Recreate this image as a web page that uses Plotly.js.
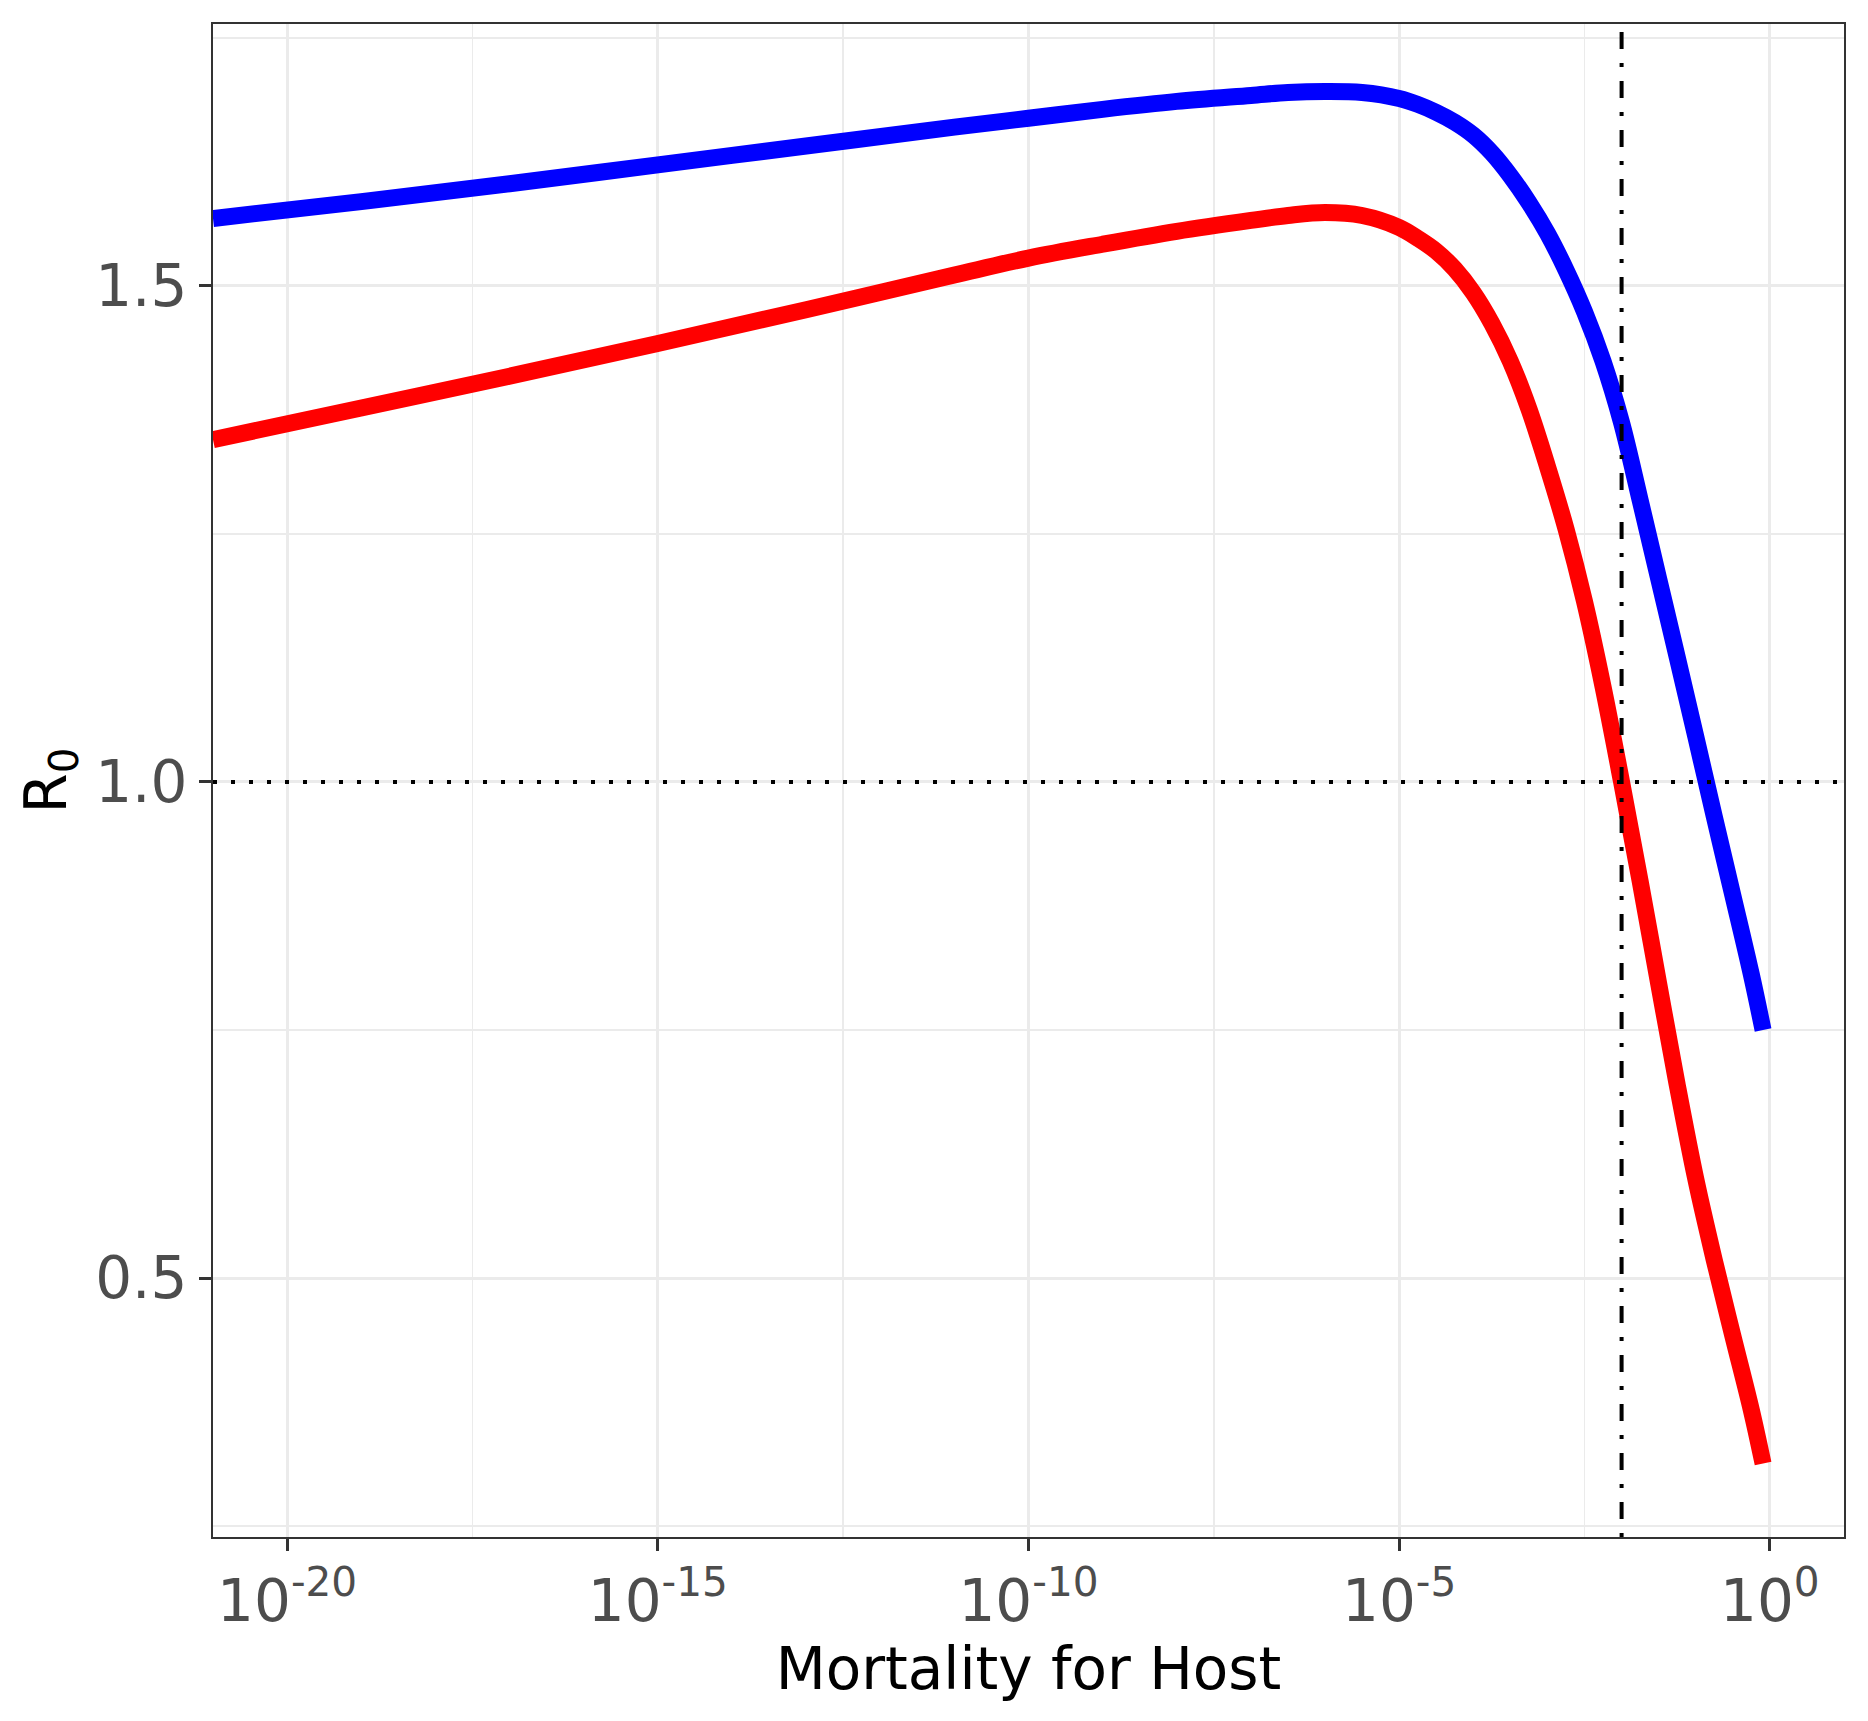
<!DOCTYPE html>
<html>
<head>
<meta charset="utf-8">
<script src="https://cdn.plot.ly/plotly-3.0.1.min.js"></script>
<style>
html,body{margin:0;padding:0;background:#fff;}
#chart{width:1868px;height:1721px;}
</style>
</head>
<body>
<div id="chart"></div>
<script>
// Mortality for host (x values)
var mortality = [1e-21, 1e-19, 1e-17, 1e-15, 1e-13, 1e-11, 1e-10, 1e-9, 1e-8, 1e-7,
  3.16e-7, 1e-6, 3.16e-6, 1e-5,
  1.78e-5, 3.16e-5, 5.62e-5, 1e-4,
  1.78e-4, 3.16e-4, 5.62e-4, 1e-3,
  1.78e-3, 3.16e-3, 5.62e-3, 1e-2,
  1.78e-2, 3.16e-2, 5.62e-2, 0.1,
  0.178, 0.316, 0.562, 0.81];
// R0, blue series
var r0Blue = [1.568, 1.585, 1.603, 1.622, 1.641, 1.660, 1.669, 1.678, 1.686, 1.692,
  1.695, 1.696, 1.695, 1.689,
  1.683, 1.675, 1.665, 1.652,
  1.634, 1.611, 1.584, 1.553,
  1.516, 1.474, 1.424, 1.362,
  1.284, 1.205, 1.126, 1.046,
  0.965, 0.886, 0.806, 0.750];
// R0, red series
var r0Red = [1.345, 1.377, 1.409, 1.442, 1.476, 1.511, 1.528, 1.542, 1.555, 1.566,
  1.571, 1.574, 1.571, 1.559,
  1.548, 1.535, 1.517, 1.493,
  1.462, 1.424, 1.376, 1.318,
  1.255, 1.182, 1.096, 1.000,
  0.900, 0.797, 0.695, 0.600,
  0.518, 0.442, 0.367, 0.313];
// reference lines
var thresholdR0 = 1.0;
var thresholdMortality = 0.01;
// axis ticks
var xTickVals = [1e-20, 1e-15, 1e-10, 1e-5, 1];
var xTickText = ['10<sup>-20</sup>', '10<sup>-15</sup>', '10<sup>-10</sup>', '10<sup>-5</sup>', '10<sup>0</sup>'];
var xMinorVals = [3.16e-23, 3.16e-18, 3.16e-13, 3.16e-8, 3.16e-3];
var yTickVals = [0.5, 1.0, 1.5];
var yTickText = ['0.5', '1.0', '1.5'];
var yMinorVals = [0.25, 0.75, 1.25, 1.75];
var xRangeLog = [-21, 1];
var yRange = [0.239, 1.764];
var xRangeVals = [1e-21, 10];

var traces = [
  {x: mortality, y: r0Blue, type: 'scatter', mode: 'lines',
   line: {color: '#0000FF', width: 17, shape: 'spline', smoothing: 1}, hoverinfo: 'skip'},
  {x: mortality, y: r0Red, type: 'scatter', mode: 'lines',
   line: {color: '#FF0000', width: 17, shape: 'spline', smoothing: 1}, hoverinfo: 'skip'},
  {x: xRangeVals, y: [thresholdR0, thresholdR0], type: 'scatter', mode: 'lines',
   line: {color: '#000000', width: 4, dash: '4px,14px'}, hoverinfo: 'skip'},
  {x: [thresholdMortality, thresholdMortality], y: yRange, type: 'scatter', mode: 'lines',
   line: {color: '#000000', width: 4, dash: '4px,14px,17px,14px'}, hoverinfo: 'skip'}
];

var axisFont = {family: 'DejaVu Sans, sans-serif', size: 58, color: '#4D4D4D'};
var titleFont = {family: 'DejaVu Sans, sans-serif', size: 58, color: '#000000'};

var layout = {
  width: 1868, height: 1721,
  paper_bgcolor: '#FFFFFF', plot_bgcolor: '#FFFFFF',
  showlegend: false,
  margin: {l: 213, r: 24, t: 24, b: 184, pad: 0},
  xaxis: {
    type: 'log', range: xRangeLog, autorange: false,
    tickmode: 'array', tickvals: xTickVals, ticktext: xTickText,
    ticks: 'outside', ticklen: 12, tickwidth: 3, tickcolor: '#333333',
    tickfont: axisFont,
    showgrid: true, gridcolor: '#EBEBEB', gridwidth: 3,
    minor: {tickmode: 'array', tickvals: xMinorVals, showgrid: true, gridcolor: '#EBEBEB', gridwidth: 1.7, ticks: ''},
    showline: true, linecolor: '#333333', linewidth: 2, mirror: true,
    zeroline: false,
    title: {text: 'Mortality for Host', font: titleFont, standoff: 0},
    automargin: false
  },
  yaxis: {
    range: yRange, autorange: false,
    tickmode: 'array', tickvals: yTickVals, ticktext: yTickText,
    ticks: 'outside', ticklen: 12, tickwidth: 3, tickcolor: '#333333',
    tickfont: axisFont,
    showgrid: true, gridcolor: '#EBEBEB', gridwidth: 3,
    minor: {tickmode: 'array', tickvals: yMinorVals, showgrid: true, gridcolor: '#EBEBEB', gridwidth: 1.7, ticks: ''},
    showline: true, linecolor: '#333333', linewidth: 2, mirror: true,
    zeroline: false,
    title: {text: 'R<sub>0</sub>', font: titleFont, standoff: 10},
    automargin: false
  }
};

Plotly.newPlot('chart', traces, layout, {staticPlot: true, displayModeBar: false});
</script>
</body>
</html>
